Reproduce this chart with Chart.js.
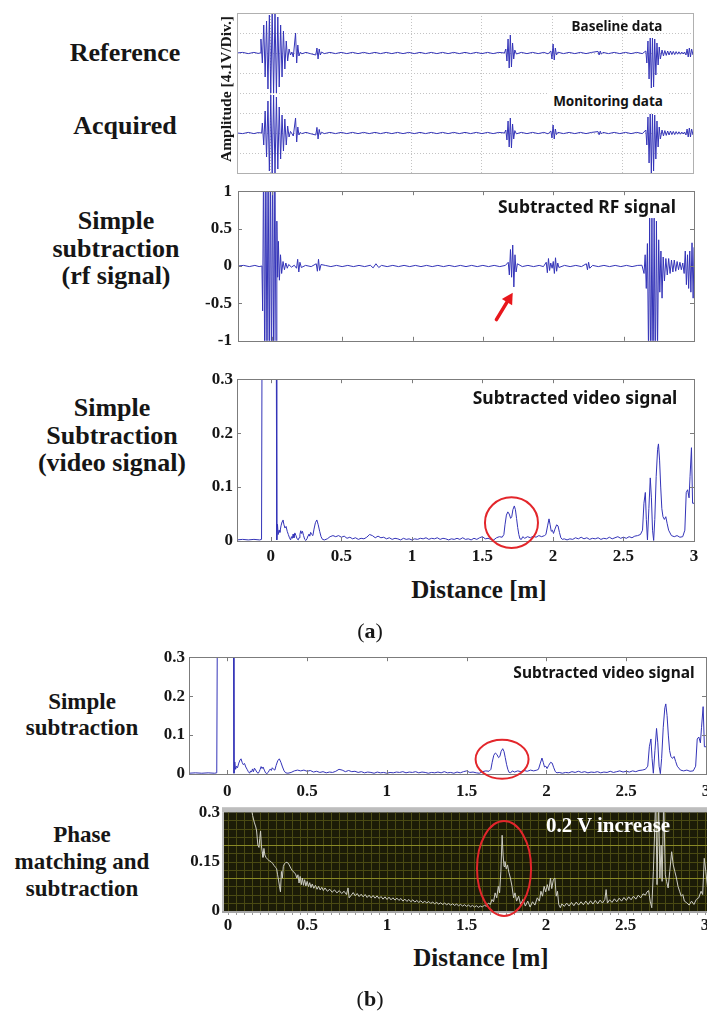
<!DOCTYPE html>
<html>
<head>
<meta charset="utf-8">
<script src="https://cdn.jsdelivr.net/npm/chart.js@4.4.0/dist/chart.umd.min.js"></script>
<style>
  html, body { margin: 0; padding: 0; background: #fff; width: 707px; height: 1017px; overflow: hidden; position: relative; }
  canvas { position: absolute; }
  .lbl { position: absolute; font-family: "Liberation Serif", "Times New Roman", serif; font-weight: bold; color: #161616;
         text-align: center; white-space: nowrap; transform: translate(-50%, -50%); }
  .tag { position: absolute; font-family: "Noto Sans", "Open Sans", sans-serif; font-weight: 700; color: #141414;
         white-space: nowrap; transform: translate(-50%, -50%); }
</style>
</head>
<body>
<canvas id="rawChart"></canvas>
<canvas id="rfChart"></canvas>
<canvas id="videoChartA"></canvas>
<canvas id="videoChartB"></canvas>
<canvas id="phaseChart"></canvas>

<!-- row captions, panel (a) -->
<div class="lbl" style="left:125px;top:53px;font-size:26px">Reference</div>
<div class="lbl" style="left:125px;top:126px;font-size:26px">Acquired</div>
<div class="lbl" style="left:116px;top:248px;font-size:26px;line-height:27.5px">Simple<br>subtraction<br>(rf signal)</div>
<div class="lbl" style="left:112px;top:435px;font-size:26px;line-height:27.5px">Simple<br>Subtraction<br>(video signal)</div>
<div class="lbl" style="left:226px;top:89px;font-size:15.5px;transform:translate(-50%,-50%) rotate(-90deg)">Amplitude [4.1V/Div.]</div>
<div class="tag" style="left:617px;top:26px;font-size:13.5px">Baseline data</div>
<div class="tag" style="left:608px;top:101px;font-size:13.5px;background:#fff;padding:3px 6px">Monitoring data</div>
<div class="tag" style="left:587px;top:206px;font-size:17.5px">Subtracted RF signal</div>
<div class="tag" style="left:575px;top:397px;font-size:17.5px">Subtracted video signal</div>
<div class="lbl" style="left:479px;top:590px;font-size:25px">Distance [m]</div>
<div class="lbl" style="left:370px;top:631px;font-size:22px;font-weight:normal">(<b>a</b>)</div>

<!-- row captions, panel (b) -->
<div class="lbl" style="left:82px;top:715px;font-size:23px;line-height:26px">Simple<br>subtraction</div>
<div class="lbl" style="left:82px;top:861px;font-size:23px;line-height:27px">Phase<br>matching and<br>subtraction</div>
<div class="tag" style="left:604px;top:672px;font-size:15.5px">Subtracted video signal</div>
<div class="lbl" style="left:608px;top:825px;font-size:21px;color:#fff">0.2 V increase</div>
<div class="lbl" style="left:481px;top:958px;font-size:25px">Distance [m]</div>
<div class="lbl" style="left:370px;top:999px;font-size:22px;font-weight:normal">(<b>b</b>)</div>

<script>
// ---------------- tick values ----------------
const distanceTicks = [0, 0.5, 1, 1.5, 2, 2.5, 3];
const divisionTicks = [-5, -4, -3, -2, -1, 0, 1];
const rfTicks = [-1, -0.5, 0, 0.5, 1];
const videoTicks = [0, 0.1, 0.2, 0.3];
const phaseTicks = [0, 0.15, 0.3];

// ---------------- traces: [distance m, value] ----------------
// baseline RF record (amplitude in divisions)
const baselineData = [
  [-0.24,0],[-0.2,0.03],[-0.16,-0.03],[-0.12,0.03],[-0.09,-0.02],[-0.075,0],
  [-0.07,0.7],[-0.06,-0.5],[-0.05,1.4],[-0.04,-1.2],[-0.03,1.6],[-0.02,-1.8],[-0.01,1.9],[0,-2.0],[0.01,2.0],[0.02,-2.0],
  [0.03,2.0],[0.04,-2.0],[0.05,1.8],[0.06,-1.7],[0.07,1.4],[0.08,-1.2],[0.09,1.1],[0.1,-0.8],[0.11,0.6],[0.12,-0.4],
  [0.13,0.2],[0.14,-0.1],[0.15,0.05],
  [0.16,-0.2],[0.168,0.4],[0.176,1.0],[0.184,-0.5],[0.192,0.4],[0.2,-0.15],[0.21,0.05],[0.22,-0.04],[0.25,0.03],[0.28,-0.03],
  [0.32,-0.1],[0.328,0.25],[0.336,-0.3],[0.344,0.2],[0.352,-0.1],[0.36,0.05],[0.38,-0.03],
  [0.42,0.03],[0.46,-0.03],[0.5,0.03],[0.54,-0.03],[0.58,0.03],[0.62,-0.03],[0.66,0.03],[0.7,-0.03],[0.74,0.03],[0.78,-0.03],
  [0.82,0.03],[0.86,-0.03],[0.9,0.03],[0.94,-0.03],[0.98,0.03],[1.02,-0.03],[1.06,0.03],[1.1,-0.03],[1.14,0.03],[1.18,-0.03],
  [1.22,0.03],[1.26,-0.03],[1.3,0.03],[1.34,-0.03],[1.38,0.03],[1.42,-0.03],[1.46,0.03],[1.5,-0.03],[1.54,0.03],[1.58,-0.03],
  [1.62,0.03],[1.66,0],
  [1.67,0.2],[1.678,-0.4],[1.686,0.7],[1.694,-0.75],[1.702,0.9],[1.71,-0.7],[1.718,0.5],[1.726,-0.3],[1.734,0.15],[1.745,-0.05],
  [1.78,0.03],[1.82,-0.03],[1.86,0.03],[1.9,-0.03],[1.94,0.03],[1.97,-0.04],
  [1.99,0.1],[1.998,-0.3],[2.006,0.45],[2.014,-0.35],[2.022,0.25],[2.03,-0.1],[2.04,0.04],
  [2.08,-0.03],[2.12,0.03],[2.16,-0.03],[2.2,0.03],[2.24,-0.03],[2.28,0.03],
  [2.325,0.08],[2.333,-0.1],[2.341,0.1],[2.349,-0.06],[2.36,0.03],
  [2.4,-0.03],[2.44,0.03],[2.48,-0.03],[2.52,0.03],[2.56,-0.03],[2.6,0.03],[2.64,-0.03],
  [2.665,0.1],[2.672,-0.5],[2.68,0.6],[2.688,-1.3],[2.696,0.75],[2.704,-1.75],[2.712,0.75],[2.72,-1.7],[2.728,0.7],
  [2.736,-1.1],[2.744,0.5],[2.752,-0.6],[2.76,0.3],[2.768,-0.3],
  [2.78,0.15],[2.79,-0.15],[2.8,0.12],[2.81,-0.12],[2.82,0.1],[2.83,-0.1],[2.84,0.1],[2.85,-0.08],[2.86,0.08],[2.87,-0.08],
  [2.88,0.07],[2.89,-0.06],[2.9,0.06],[2.91,-0.06],[2.92,0.05],[2.93,-0.05],[2.94,0.05],
  [2.95,-0.1],[2.958,0.2],[2.966,-0.2],[2.974,0.25],[2.982,-0.2],[2.99,0.2],[3.0,-0.1]
];

// monitoring RF record (amplitude in divisions)
const monitoringData = [
  [-0.24,0],[-0.2,-0.03],[-0.16,0.03],[-0.12,-0.03],[-0.09,0.02],[-0.065,0],
  [-0.06,0.5],[-0.05,-0.6],[-0.04,1.1],[-0.03,-1.2],[-0.02,1.6],[-0.01,-1.9],[0,1.9],[0.01,-2.0],[0.02,1.9],[0.03,-2.0],
  [0.04,1.8],[0.05,-1.8],[0.06,1.3],[0.07,-1.3],[0.08,0.9],[0.09,-0.9],[0.1,0.7],[0.11,-0.6],[0.12,0.35],[0.13,-0.2],
  [0.14,0.08],[0.15,-0.03],
  [0.16,-0.15],[0.168,0.3],[0.176,0.75],[0.184,-0.45],[0.192,0.3],[0.2,-0.1],[0.21,0.04],[0.22,-0.03],[0.25,0.03],[0.28,-0.03],
  [0.32,-0.1],[0.328,0.28],[0.336,-0.3],[0.344,0.18],[0.352,-0.08],[0.36,0.04],[0.38,-0.03],
  [0.42,0.03],[0.46,-0.03],[0.5,0.03],[0.54,-0.03],[0.58,0.03],[0.62,-0.03],[0.66,0.03],[0.7,-0.03],[0.74,0.03],[0.78,-0.03],
  [0.82,0.03],[0.86,-0.03],[0.9,0.03],[0.94,-0.03],[0.98,0.03],[1.02,-0.03],[1.06,0.03],[1.1,-0.03],[1.14,0.03],[1.18,-0.03],
  [1.22,0.03],[1.26,-0.03],[1.3,0.03],[1.34,-0.03],[1.38,0.03],[1.42,-0.03],[1.46,0.03],[1.5,-0.03],[1.54,0.03],[1.58,-0.03],
  [1.62,0.03],[1.66,0],
  [1.67,0.15],[1.678,-0.35],[1.686,0.6],[1.694,-0.7],[1.702,0.75],[1.71,-0.75],[1.718,0.45],[1.726,-0.3],[1.734,0.12],[1.745,-0.04],
  [1.78,0.03],[1.82,-0.03],[1.86,0.03],[1.9,-0.03],[1.94,0.03],[1.97,-0.04],
  [1.99,0.1],[1.998,-0.25],[2.006,0.4],[2.014,-0.3],[2.022,0.2],[2.03,-0.08],[2.04,0.03],
  [2.08,-0.03],[2.12,0.03],[2.16,-0.03],[2.2,0.03],[2.24,-0.03],[2.28,0.03],
  [2.325,0.07],[2.333,-0.09],[2.341,0.09],[2.349,-0.05],[2.36,0.03],
  [2.4,-0.03],[2.44,0.03],[2.48,-0.03],[2.52,0.03],[2.56,-0.03],[2.6,0.03],[2.64,-0.03],
  [2.665,0.15],[2.672,-0.6],[2.68,0.8],[2.688,-1.5],[2.696,0.95],[2.704,-2.0],[2.712,0.95],[2.72,-1.9],[2.728,0.9],
  [2.736,-1.3],[2.744,0.6],[2.752,-0.7],[2.76,0.3],[2.768,-0.3],
  [2.78,0.15],[2.79,-0.15],[2.8,0.12],[2.81,-0.12],[2.82,0.1],[2.83,-0.1],[2.84,0.1],[2.85,-0.08],[2.86,0.08],[2.87,-0.08],
  [2.88,0.07],[2.89,-0.06],[2.9,0.06],[2.91,-0.06],[2.92,0.05],[2.93,-0.05],[2.94,0.05],
  [2.95,-0.1],[2.958,0.2],[2.966,-0.2],[2.974,0.25],[2.982,-0.2],[2.99,0.2],[3.0,-0.1]
];

// monitoring minus baseline, RF
const subtractedRf = [
  [-0.24,0],[-0.2,0.008],[-0.16,-0.008],[-0.12,0.008],[-0.09,-0.008],[-0.07,0],
  [-0.065,-0.6],[-0.058,1.5],[-0.05,-1.5],[-0.042,1.5],[-0.034,-1.5],[-0.026,1.5],[-0.018,-1.5],[-0.01,1.5],[-0.002,-1.5],
  [0.006,1.5],[0.014,-1.5],[0.022,1.5],[0.03,-1.2],[0.036,0.6],[0.042,-0.15],[0.047,0.33],[0.054,-0.19],[0.062,0.15],
  [0.07,-0.1],[0.08,0.06],[0.09,-0.05],[0.1,0.04],[0.11,-0.03],[0.12,0.02],[0.14,-0.015],[0.16,0.01],
  [0.176,-0.03],[0.184,0.09],[0.192,-0.08],[0.2,0.05],[0.21,-0.02],[0.24,0.008],[0.28,-0.008],
  [0.316,0.03],[0.324,-0.07],[0.332,0.09],[0.34,-0.06],[0.35,0.02],
  [0.38,0.008],[0.42,-0.008],[0.46,0.008],[0.5,-0.008],[0.54,0.008],[0.58,-0.008],[0.62,0.008],[0.66,-0.008],[0.7,0.01],
  [0.72,-0.025],[0.74,0.03],[0.76,-0.02],[0.78,0.008],[0.82,-0.008],[0.86,0.008],[0.9,-0.008],[0.94,0.008],[0.98,-0.008],
  [1.02,0.008],[1.06,-0.008],[1.1,0.008],[1.14,-0.008],[1.18,0.008],[1.22,-0.008],[1.26,0.008],[1.3,-0.008],[1.34,0.008],
  [1.38,-0.008],[1.42,0.008],[1.46,-0.008],[1.5,0.008],[1.54,-0.008],[1.58,0.008],[1.62,-0.008],[1.66,0.008],
  [1.68,0.05],[1.688,-0.12],[1.696,0.22],[1.704,-0.15],[1.712,0.28],[1.72,-0.28],[1.728,0.15],[1.736,-0.08],[1.745,0.03],
  [1.78,-0.008],[1.82,0.008],[1.86,-0.008],[1.9,0.008],[1.93,-0.008],
  [1.95,0.05],[1.958,-0.09],[1.966,0.1],[1.974,-0.06],[1.982,0.04],[1.992,-0.03],[2.0,0.06],[2.008,-0.1],[2.016,0.11],
  [2.024,-0.07],[2.032,0.04],[2.04,-0.02],
  [2.08,0.008],[2.12,-0.008],[2.16,0.008],[2.2,-0.008],
  [2.235,0.03],[2.243,-0.05],[2.251,0.05],[2.259,-0.03],
  [2.28,0.008],[2.32,-0.008],[2.36,0.008],[2.4,-0.008],[2.44,0.008],[2.48,-0.008],[2.52,0.008],[2.56,-0.008],[2.6,0.008],
  [2.63,0.01],
  [2.645,-0.1],[2.653,0.15],[2.661,-0.3],[2.669,0.3],[2.677,-1.2],[2.685,0.64],[2.693,-1.5],[2.701,0.64],[2.709,-1.5],
  [2.717,0.64],[2.725,-1.5],[2.733,0.6],[2.741,-1.1],[2.749,0.35],[2.757,-0.35],[2.765,0.2],[2.773,-0.43],[2.781,0.12],
  [2.79,-0.2],[2.8,0.1],[2.81,-0.12],[2.82,0.1],[2.83,-0.1],[2.84,0.08],[2.85,-0.08],[2.86,0.08],[2.87,-0.07],[2.88,0.06],
  [2.89,-0.05],[2.9,0.05],[2.91,-0.05],[2.92,0.04],
  [2.93,-0.1],[2.938,0.2],[2.946,-0.25],[2.954,0.15],[2.962,-0.3],[2.97,0.2],[2.978,-0.35],[2.986,0.31],[2.994,-0.43],[3.0,0.25]
];

// envelope of the subtracted signal (video)
const subtractedVideo = [
  [-0.24,0.002],[-0.2,0.003],[-0.16,0.002],[-0.12,0.003],[-0.08,0.002],[-0.066,0.003],[-0.062,0.42],[-0.04,0.62],
  [-0.01,0.7],[0.02,0.6],[0.038,0.42],[0.042,0.002],[0.047,0.031],[0.052,0.012],[0.058,0.02],[0.064,0.016],[0.072,0.028],
  [0.08,0.036],[0.086,0.039],[0.093,0.03],[0.1,0.024],[0.108,0.027],[0.116,0.018],[0.124,0.012],[0.132,0.006],[0.14,0.002],
  [0.146,0.008],[0.152,0.005],[0.158,0.013],[0.164,0.006],[0.17,0.015],[0.178,0.01],[0.186,0.004],[0.194,0.002],
  [0.2,0.006],[0.206,0.012],[0.212,0.019],[0.218,0.014],[0.224,0.018],[0.232,0.01],[0.24,0.003],[0.248,0.001],
  [0.256,0.004],[0.264,0.01],[0.27,0.013],[0.276,0.009],[0.282,0.016],[0.29,0.012],[0.298,0.01],[0.306,0.022],
  [0.316,0.034],[0.326,0.039],[0.336,0.03],[0.346,0.018],[0.356,0.008],[0.366,0.003],[0.38,0.002],
  [0.4,0.004],[0.42,0.008],[0.44,0.01],[0.46,0.008],[0.48,0.01],[0.5,0.007],[0.52,0.009],[0.54,0.005],[0.56,0.007],
  [0.58,0.004],[0.6,0.006],[0.62,0.003],[0.64,0.005],[0.66,0.004],[0.68,0.007],[0.7,0.012],[0.72,0.01],[0.74,0.006],
  [0.76,0.009],[0.78,0.006],[0.8,0.007],[0.82,0.004],[0.84,0.006],[0.86,0.003],[0.88,0.005],[0.9,0.004],[0.92,0.002],
  [0.94,0.005],[0.96,0.003],[0.98,0.004],[1.0,0.002],[1.02,0.004],[1.04,0.003],[1.06,0.005],[1.08,0.004],[1.1,0.006],
  [1.12,0.003],[1.14,0.005],[1.16,0.004],[1.18,0.006],[1.2,0.003],[1.22,0.005],[1.24,0.004],[1.26,0.002],[1.28,0.004],
  [1.3,0.003],[1.32,0.005],[1.34,0.003],[1.36,0.006],[1.38,0.003],[1.4,0.004],[1.42,0.002],[1.44,0.005],[1.46,0.003],
  [1.48,0.006],[1.5,0.008],[1.52,0.004],[1.54,0.005],[1.56,0.003],[1.58,0.002],[1.6,0.006],[1.62,0.008],[1.64,0.007],
  [1.652,0.012],[1.66,0.03],[1.67,0.048],[1.68,0.054],[1.69,0.05],[1.7,0.042],[1.708,0.045],[1.716,0.058],[1.726,0.065],
  [1.734,0.058],[1.742,0.042],[1.75,0.025],[1.758,0.012],[1.766,0.004],[1.776,0.003],[1.786,0.008],[1.8,0.005],
  [1.82,0.008],[1.84,0.006],[1.86,0.009],[1.88,0.007],[1.9,0.01],[1.92,0.008],[1.94,0.01],
  [1.95,0.012],[1.962,0.028],[1.972,0.041],[1.98,0.03],[1.988,0.018],[1.996,0.02],[2.004,0.014],[2.014,0.022],
  [2.026,0.03],[2.036,0.028],[2.046,0.016],[2.056,0.006],[2.066,0.003],[2.08,0.004],
  [2.1,0.002],[2.12,0.004],[2.14,0.003],[2.16,0.006],[2.18,0.004],[2.2,0.007],[2.22,0.004],[2.24,0.006],[2.26,0.003],
  [2.28,0.005],[2.3,0.004],[2.32,0.006],[2.34,0.003],[2.36,0.005],[2.38,0.004],[2.4,0.007],[2.42,0.004],[2.44,0.006],
  [2.46,0.008],[2.48,0.005],[2.5,0.007],[2.52,0.005],[2.54,0.008],[2.56,0.006],[2.58,0.009],[2.6,0.01],[2.62,0.012],
  [2.635,0.02],[2.645,0.07],[2.655,0.09],[2.662,0.04],[2.67,0.002],[2.68,0.06],[2.69,0.117],[2.698,0.08],[2.706,0.02],
  [2.714,0.001],[2.722,0.04],[2.732,0.12],[2.742,0.17],[2.748,0.18],[2.756,0.15],[2.764,0.1],[2.772,0.06],[2.78,0.045],
  [2.79,0.04],[2.8,0.045],[2.81,0.032],[2.82,0.02],[2.84,0.01],[2.86,0.008],[2.88,0.01],[2.9,0.007],[2.92,0.008],
  [2.935,0.02],[2.945,0.09],[2.955,0.095],[2.965,0.08],[2.972,0.12],[2.982,0.173],[2.99,0.07],[3.0,0.07]
];

// phase-matched subtraction (envelope)
const phaseMatched = [
  [0.148,0.31],[0.155,0.29],[0.165,0.27],[0.175,0.255],[0.18,0.243],[0.188,0.2],[0.195,0.193],[0.2,0.22],[0.205,0.243],
  [0.21,0.2],[0.215,0.18],[0.22,0.163],[0.226,0.19],[0.232,0.17],[0.24,0.162],[0.25,0.157],[0.26,0.152],[0.27,0.15],
  [0.28,0.145],[0.29,0.138],[0.3,0.132],[0.306,0.128],[0.312,0.11],[0.318,0.094],[0.324,0.075],[0.33,0.058],[0.336,0.12],
  [0.342,0.1],[0.348,0.135],[0.355,0.143],[0.365,0.148],[0.375,0.147],[0.385,0.14],[0.395,0.13],[0.405,0.122],
  [0.415,0.118],[0.425,0.112],[0.433,0.1],[0.44,0.11],[0.447,0.085],[0.454,0.105],[0.461,0.08],[0.468,0.1],[0.475,0.078],
  [0.482,0.095],[0.49,0.076],[0.498,0.09],[0.506,0.074],[0.514,0.086],[0.522,0.071],[0.53,0.082],[0.54,0.069],[0.55,0.078],
  [0.56,0.066],[0.57,0.075],[0.58,0.064],[0.59,0.072],[0.6,0.062],[0.61,0.07],[0.625,0.06],[0.64,0.066],[0.655,0.057],
  [0.67,0.064],[0.685,0.055],[0.7,0.062],[0.715,0.053],[0.73,0.06],[0.745,0.05],[0.755,0.07],[0.762,0.04],[0.775,0.048],
  [0.7875,0.056],[0.8,0.046],[0.8125,0.053],[0.825,0.044],[0.8375,0.051],[0.85,0.043],[0.8625,0.05],[0.875,0.041],
  [0.8875,0.048],[0.9,0.04],[0.9125,0.047],[0.925,0.039],[0.9375,0.046],[0.95,0.038],[0.9625,0.044],[0.975,0.036],
  [0.9875,0.043],[1.0,0.035],[1.0125,0.042],[1.025,0.034],[1.0375,0.04],[1.05,0.033],[1.0625,0.039],[1.075,0.032],
  [1.0875,0.038],[1.1,0.03],[1.1125,0.036],[1.125,0.029],[1.1375,0.035],[1.15,0.028],[1.1625,0.034],[1.175,0.027],
  [1.1875,0.032],[1.2,0.026],[1.2125,0.031],[1.225,0.025],[1.2375,0.03],[1.25,0.024],[1.2625,0.029],[1.275,0.023],
  [1.2875,0.027],[1.3,0.022],[1.3125,0.026],[1.325,0.021],[1.3375,0.025],[1.35,0.02],[1.3625,0.024],[1.375,0.019],
  [1.3875,0.023],[1.4,0.018],[1.4125,0.022],[1.425,0.017],[1.4375,0.021],[1.45,0.016],[1.4625,0.02],[1.475,0.015],
  [1.4875,0.019],[1.5,0.014],[1.5125,0.018],[1.525,0.013],[1.5375,0.017],[1.55,0.012],[1.5625,0.016],[1.575,0.011],
  [1.5875,0.015],[1.6,0.012],[1.6125,0.018],[1.625,0.014],[1.6375,0.024],[1.65,0.02],
  [1.66,0.035],[1.67,0.028],[1.68,0.055],[1.69,0.04],[1.7,0.075],[1.708,0.055],[1.716,0.12],[1.724,0.23],[1.73,0.17],
  [1.736,0.135],[1.742,0.15],[1.75,0.128],[1.758,0.14],[1.766,0.118],[1.776,0.1],[1.786,0.075],[1.796,0.04],[1.805,0.055],
  [1.815,0.03],[1.828,0.045],[1.84,0.02],
  [1.855,0.035],[1.87,0.015],[1.885,0.03],[1.9,0.012],[1.915,0.028],[1.93,0.018],[1.945,0.04],[1.958,0.03],[1.968,0.06],
  [1.978,0.045],[1.988,0.075],[1.998,0.058],[2.008,0.08],[2.018,0.062],[2.028,0.1],[2.036,0.068],[2.046,0.095],
  [2.056,0.1],[2.064,0.045],[2.072,0.06],[2.08,0.02],[2.09,0.01],[2.1,0.022],
  [2.115,0.014],[2.13,0.024],[2.145,0.015],[2.16,0.026],[2.175,0.016],[2.19,0.027],[2.205,0.018],[2.22,0.028],
  [2.235,0.019],[2.25,0.03],[2.265,0.02],[2.28,0.031],[2.295,0.021],[2.31,0.032],[2.325,0.022],[2.34,0.033],
  [2.355,0.024],[2.37,0.035],[2.378,0.065],[2.386,0.024],[2.4,0.034],[2.415,0.026],[2.43,0.037],[2.445,0.028],
  [2.46,0.039],[2.475,0.03],[2.49,0.041],[2.505,0.032],[2.52,0.043],[2.535,0.034],[2.55,0.045],[2.565,0.036],
  [2.58,0.048],[2.595,0.04],[2.61,0.052],[2.625,0.048],[2.635,0.058],[2.645,0.062],[2.655,0.03],[2.665,0.01],
  [2.675,0.12],[2.69,0.35],[2.698,0.08],[2.708,0.34],[2.716,0.1],[2.724,0.2],[2.73,0.09],[2.74,0.34],[2.75,0.11],
  [2.758,0.09],[2.768,0.07],[2.778,0.12],[2.79,0.18],[2.8,0.14],[2.81,0.12],[2.82,0.1],[2.83,0.075],[2.84,0.06],
  [2.85,0.045],[2.86,0.05],[2.87,0.03],[2.885,0.025],[2.9,0.018],[2.915,0.03],[2.93,0.02],[2.945,0.035],[2.96,0.04],
  [2.975,0.06],[2.985,0.05],[2.995,0.16],[3.005,0.12],[3.02,0.05],[3.04,0.03]
];

// ---------------- annotation marks (data coordinates) ----------------
const ringVideoA = { x: 1.706, y: 0.034, rx: 0.188, ry: 0.047 };
const ringVideoB = { x: 1.722, y: 0.038, rx: 0.166, ry: 0.05 };
const ringPhase  = { x: 1.736, y: 0.129, rx: 0.17, ry: 0.144 };
const rfArrow    = { from: [1.596, -0.716], to: [1.712, -0.358] };

// ---------------- styling ----------------
const SERIF = "'Liberation Serif', 'Times New Roman', serif";
const tickFont = { family: SERIF, size: 17, weight: 'bold' };
const TRACE_BLUE = 'rgb(52,52,184)';
const TEXT = '#161616';

const toPoints = pairs => pairs.map(p => ({ x: p[0], y: p[1] }));
const fixedTicks = values => scale => { scale.ticks = values.map(v => ({ value: v })); };

// canvas rectangle + desired plot rectangle (page pixels)
function place(id, canvasRect, area) {
  const c = document.getElementById(id);
  c.width = canvasRect.w; c.height = canvasRect.h;
  c.style.left = canvasRect.l + 'px'; c.style.top = canvasRect.t + 'px';
  return {
    canvas: c,
    padding: { left: 0, bottom: 0, top: area.t - canvasRect.t, right: canvasRect.l + canvasRect.w - area.r },
    yWidth: area.l - canvasRect.l,
    xHeight: canvasRect.t + canvasRect.h - area.b
  };
}

function baseOptions(L) {
  return {
    responsive: false, animation: false, devicePixelRatio: 1,
    layout: { padding: L.padding },
    plugins: { legend: { display: false }, tooltip: { enabled: false } },
    elements: { point: { radius: 0 }, line: { borderWidth: 1, tension: 0 } }
  };
}

function xAxis(L, opts) {
  return Object.assign({
    type: 'linear', min: -0.24, max: 3.0,
    afterBuildTicks: fixedTicks(distanceTicks),
    afterFit: s => { s.height = L.xHeight; },
    grid: { display: false, drawTicks: false },
    border: { display: false },
    ticks: { display: true, padding: 5, font: tickFont, color: TEXT, maxRotation: 0, minRotation: 0, autoSkip: false,
             callback: v => String(v) }
  }, opts || {});
}

function yAxis(L, values, min, max, pad) {
  return {
    type: 'linear', min, max,
    afterBuildTicks: fixedTicks(values),
    afterFit: s => { s.width = L.yWidth; },
    grid: { display: false, drawTicks: false },
    border: { display: false },
    ticks: { padding: pad, font: tickFont, color: TEXT, autoSkip: false, callback: v => String(v) }
  };
}

// frame around the plot and short inward tick marks on all four sides
function framePlugin(color, tickLen) {
  return {
    id: 'frame',
    afterDatasetsDraw(chart) {
      const { ctx, chartArea: a, scales } = chart;
      ctx.save();
      ctx.strokeStyle = color; ctx.lineWidth = 1;
      if (tickLen > 0) {
        ctx.beginPath();
        scales.x.ticks.forEach(t => {
          const px = Math.round(scales.x.getPixelForValue(t.value)) + 0.5;
          ctx.moveTo(px, a.bottom); ctx.lineTo(px, a.bottom - tickLen);
          ctx.moveTo(px, a.top); ctx.lineTo(px, a.top + tickLen);
        });
        scales.y.ticks.forEach(t => {
          const py = Math.round(scales.y.getPixelForValue(t.value)) + 0.5;
          ctx.moveTo(a.left, py); ctx.lineTo(a.left + tickLen, py);
          ctx.moveTo(a.right, py); ctx.lineTo(a.right - tickLen, py);
        });
        ctx.stroke();
      }
      ctx.strokeRect(Math.round(a.left) + 0.5, Math.round(a.top) + 0.5,
                     Math.round(a.right - a.left), Math.round(a.bottom - a.top));
      ctx.restore();
    }
  };
}

function ringPlugin(ring) {
  return {
    id: 'ring',
    afterDatasetsDraw(chart) {
      const { ctx, scales: { x, y } } = chart;
      const cx = x.getPixelForValue(ring.x), cy = y.getPixelForValue(ring.y);
      const rx = Math.abs(x.getPixelForValue(ring.x + ring.rx) - cx);
      const ry = Math.abs(y.getPixelForValue(ring.y + ring.ry) - cy);
      ctx.save();
      ctx.strokeStyle = '#e3262b'; ctx.lineWidth = 2;
      ctx.beginPath(); ctx.ellipse(cx, cy, rx, ry, 0, 0, Math.PI * 2); ctx.stroke();
      ctx.restore();
    }
  };
}

const arrowPlugin = {
  id: 'arrow',
  afterDatasetsDraw(chart) {
    const { ctx, scales: { x, y } } = chart;
    const x0 = x.getPixelForValue(rfArrow.from[0]), y0 = y.getPixelForValue(rfArrow.from[1]);
    const x1 = x.getPixelForValue(rfArrow.to[0]), y1 = y.getPixelForValue(rfArrow.to[1]);
    const ang = Math.atan2(y1 - y0, x1 - x0);
    const head = 11, half = 6;
    const bx = x1 - head * Math.cos(ang), by = y1 - head * Math.sin(ang);
    ctx.save();
    ctx.strokeStyle = ctx.fillStyle = '#e8171c';
    ctx.lineWidth = 3.5; ctx.lineCap = 'round';
    ctx.beginPath(); ctx.moveTo(x0, y0); ctx.lineTo(bx, by); ctx.stroke();
    ctx.beginPath();
    ctx.moveTo(x1, y1);
    ctx.lineTo(bx + half * Math.sin(ang), by - half * Math.cos(ang));
    ctx.lineTo(bx - half * Math.sin(ang), by + half * Math.cos(ang));
    ctx.closePath(); ctx.fill();
    ctx.restore();
  }
};

// oscilloscope-style screen for the phase-matched trace
const scopeStyle = { stepX: 0.05, stepY: 0.025, majorEvery: 4, bg: '#1c1c07', minor: '#4a4a13', major: '#8a8a26' };
const scopePlugin = {
  id: 'scope',
  beforeDatasetsDraw(chart) {
    const { ctx, chartArea: a, scales: { x, y } } = chart;
    ctx.save();
    ctx.fillStyle = scopeStyle.bg;
    ctx.fillRect(a.left, a.top, a.right - a.left, a.bottom - a.top);
    ctx.lineWidth = 1;
    ctx.strokeStyle = scopeStyle.minor;
    ctx.beginPath();
    for (let i = 0; i * scopeStyle.stepX <= x.max; i++) {
      const px = Math.round(x.getPixelForValue(i * scopeStyle.stepX)) + 0.5;
      ctx.moveTo(px, a.top); ctx.lineTo(px, a.bottom);
    }
    ctx.stroke();
    for (let j = 1; j * scopeStyle.stepY < y.max; j++) {
      const py = Math.round(y.getPixelForValue(j * scopeStyle.stepY)) + 0.5;
      ctx.strokeStyle = (j % scopeStyle.majorEvery === 0) ? scopeStyle.major : scopeStyle.minor;
      ctx.beginPath(); ctx.moveTo(a.left, py); ctx.lineTo(a.right, py); ctx.stroke();
    }
    ctx.restore();
  },
  afterDatasetsDraw(chart) {
    const { ctx, chartArea: a, scales: { x } } = chart;
    ctx.save();
    ctx.fillStyle = '#bdbdbd';
    ctx.fillRect(a.left - 2, a.top - 5, a.right - a.left + 2, 5);
    ctx.fillRect(a.left - 2, a.top, 2, a.bottom - a.top);
    ctx.fillStyle = '#a5a5a5';
    ctx.fillRect(a.left - 2, a.bottom, a.right - a.left + 2, 2);
    ctx.strokeStyle = '#9a9a9a'; ctx.lineWidth = 1;
    ctx.beginPath();
    for (let i = 0; i * scopeStyle.stepX <= x.max; i++) {
      const px = Math.round(x.getPixelForValue(i * scopeStyle.stepX)) + 0.5;
      ctx.moveTo(px, a.bottom + 2); ctx.lineTo(px, a.bottom + 4);
    }
    ctx.stroke();
    ctx.restore();
  }
};

// ---------------- chart 1: baseline & monitoring records ----------------
(function () {
  const L = place('rawChart', { l: 230, t: 8, w: 470, h: 170 }, { l: 237, t: 13, r: 693, b: 173 });
  const dotted = '#c4c4c4';
  new Chart(L.canvas, {
    type: 'line',
    data: { datasets: [
      { data: toPoints(baselineData), yAxisID: 'yTop', borderColor: TRACE_BLUE, borderWidth: 1 },
      { data: toPoints(monitoringData), yAxisID: 'yBot', borderColor: TRACE_BLUE, borderWidth: 1 }
    ] },
    options: Object.assign(baseOptions(L), {
      scales: {
        x: xAxis(L, {
          afterBuildTicks: fixedTicks(distanceTicks.slice(0, 6)),
          grid: { display: true, drawTicks: false, color: dotted, lineWidth: 1 },
          border: { display: false, dash: [1, 2] },
          ticks: { display: false }
        }),
        yTop: {
          type: 'linear', position: 'left', min: -6, max: 2,
          afterBuildTicks: fixedTicks(divisionTicks),
          afterFit: s => { s.width = L.yWidth; },
          grid: { display: true, drawTicks: false, color: dotted, lineWidth: 1 },
          border: { display: false, dash: [1, 2] },
          ticks: { display: false }
        },
        yBot: { type: 'linear', position: 'left', min: -2, max: 6, display: false }
      }
    }),
    plugins: [framePlugin('#b0b0b0', 0)]
  });
})();

// ---------------- chart 2: subtracted RF ----------------
(function () {
  const L = place('rfChart', { l: 190, t: 175, w: 520, h: 182 }, { l: 238, t: 189, r: 694, b: 351 });
  new Chart(L.canvas, {
    type: 'line',
    data: { datasets: [{ data: toPoints(subtractedRf), borderColor: TRACE_BLUE, borderWidth: 1 }] },
    options: Object.assign(baseOptions(L), {
      scales: {
        x: xAxis(L, { ticks: { display: false } }),
        y: yAxis(L, rfTicks, -1, 1, 6)
      }
    }),
    plugins: [framePlugin('#7c7c7c', 4), arrowPlugin]
  });
})();

// ---------------- chart 3: subtracted video, panel (a) ----------------
(function () {
  const L = place('videoChartA', { l: 190, t: 365, w: 520, h: 200 }, { l: 237, t: 379, r: 694, b: 541 });
  new Chart(L.canvas, {
    type: 'line',
    data: { datasets: [{ data: toPoints(subtractedVideo), borderColor: TRACE_BLUE, borderWidth: 1 }] },
    options: Object.assign(baseOptions(L), {
      scales: {
        x: xAxis(L),
        y: yAxis(L, videoTicks, 0, 0.3, 4)
      }
    }),
    plugins: [framePlugin('#7c7c7c', 4), ringPlugin(ringVideoA)]
  });
})();

// ---------------- chart 4: subtracted video, panel (b) ----------------
(function () {
  const L = place('videoChartB', { l: 145, t: 643, w: 580, h: 155 }, { l: 189, t: 655, r: 706, b: 774 });
  new Chart(L.canvas, {
    type: 'line',
    data: { datasets: [{ data: toPoints(subtractedVideo), borderColor: TRACE_BLUE, borderWidth: 1 }] },
    options: Object.assign(baseOptions(L), {
      scales: {
        x: xAxis(L, { ticks: { display: true, padding: 7, font: tickFont, color: TEXT, maxRotation: 0, autoSkip: false, callback: v => String(v) } }),
        y: yAxis(L, videoTicks, 0, 0.3, 4)
      }
    }),
    plugins: [framePlugin('#7c7c7c', 4), ringPlugin(ringVideoB)]
  });
})();

// ---------------- chart 5: phase matching and subtraction ----------------
(function () {
  const L = place('phaseChart', { l: 175, t: 798, w: 560, h: 140 }, { l: 224, t: 810, r: 713, b: 911 });
  new Chart(L.canvas, {
    type: 'line',
    data: { datasets: [{ data: toPoints(phaseMatched), borderColor: 'rgb(205,205,195)', borderWidth: 1 }] },
    options: Object.assign(baseOptions(L), {
      scales: {
        x: xAxis(L, { min: -0.025, max: 3.05,
          ticks: { display: true, padding: 4, font: tickFont, color: TEXT, maxRotation: 0, autoSkip: false, callback: v => String(v) } }),
        y: yAxis(L, phaseTicks, 0, 0.3, 4)
      }
    }),
    plugins: [scopePlugin, ringPlugin(ringPhase)]
  });
})();
</script>
</body>
</html>
